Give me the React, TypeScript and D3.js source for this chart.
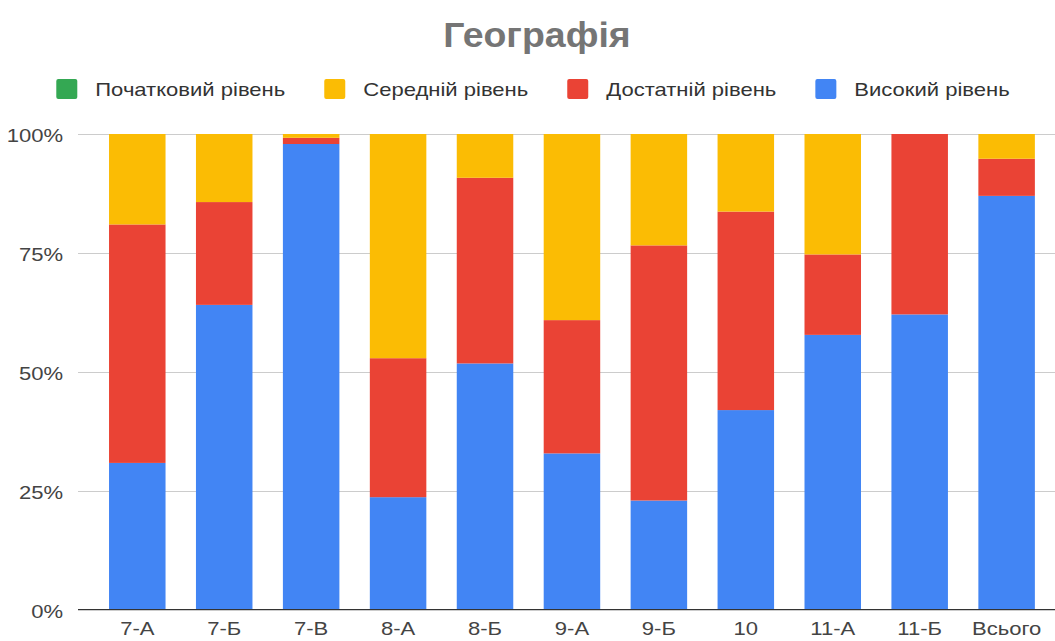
import React, { useEffect, useRef } from "react";
import * as d3 from "d3";

const categories = ["7-А", "7-Б", "7-В", "8-А", "8-Б", "9-А", "9-Б", "10", "11-А", "11-Б", "Всього"];
const seriesNames = ["Початковий рівень", "Середній рівень", "Достатній рівень", "Високий рівень"];
const initialLevel = [0, 0, 0, 0, 0, 0, 0, 0, 0, 0, 0];
const mediumLevel = [19.0, 14.3, 0.8, 47.1, 9.2, 39.1, 23.4, 16.3, 25.3, 0, 5.2];
const sufficientLevel = [50.1, 21.6, 1.3, 29.2, 39.0, 28.0, 53.6, 41.7, 16.9, 37.9, 7.8];
const highLevel = [30.9, 64.1, 97.9, 23.7, 51.8, 32.9, 23.0, 42.0, 57.8, 62.1, 87.0];
const yTicks = [0, 0.25, 0.5, 0.75, 1];
const yTickLabels = ["0%", "25%", "50%", "75%", "100%"];
const colors: Record<string, string> = {
  "Початковий рівень": "#34a853",
  "Середній рівень": "#fbbc04",
  "Достатній рівень": "#ea4335",
  "Високий рівень": "#4285f4",
};

const W = 1055;
const H = 641;
const FONT = "'Liberation Sans', Arial, sans-serif";
const SX = 1.16;

export default function App() {
  const ref = useRef<SVGSVGElement>(null);

  useEffect(() => {
    const svg = d3.select(ref.current);
    svg.selectAll("*").remove();

    const rows = categories.map((c, i) => ({
      cat: c,
      "Високий рівень": highLevel[i],
      "Достатній рівень": sufficientLevel[i],
      "Середній рівень": mediumLevel[i],
      "Початковий рівень": initialLevel[i],
    }));
    const stackOrder = ["Високий рівень", "Достатній рівень", "Середній рівень", "Початковий рівень"];
    const stacked = d3
      .stack<any>()
      .keys(stackOrder)
      .offset(d3.stackOffsetExpand)(rows);

    const x = d3
      .scaleBand<string>()
      .domain(categories)
      .range([78.6, 1065.3])
      .paddingInner(0.35)
      .paddingOuter(0.35);
    const y = d3.scaleLinear().domain([0, 1]).range([610, 134]);

    const label = (
      parent: any,
      px: number,
      py: number,
      txt: string,
      anchor: string,
      size: number,
      fill: string,
      sx: number,
      weight = "normal"
    ) => {
      const t = parent
        .append("text")
        .attr("transform", `translate(${px},${py}) scale(${sx},1)`)
        .attr("text-anchor", anchor)
        .attr("font-family", FONT)
        .attr("font-size", size)
        .attr("font-weight", weight)
        .attr("fill", fill)
        .text(txt);
      return t;
    };

    // gridlines
    const grid = svg.append("g");
    yTicks.forEach((t, i) => {
      const yy = Math.round(y(t)) + 0.5;
      grid
        .append("line")
        .attr("x1", 78)
        .attr("x2", W)
        .attr("y1", yy)
        .attr("y2", yy)
        .attr("stroke", "#cccccc")
        .attr("stroke-width", 1);
      label(svg, 63, yy + 7, yTickLabels[i], "end", 19, "#444", SX);
    });

    // bars
    const barsG = svg.append("g");
    stacked.forEach((layer) => {
      barsG
        .append("g")
        .attr("fill", colors[layer.key])
        .selectAll("rect")
        .data(layer)
        .join("rect")
        .attr("x", (d: any) => x(d.data.cat)!)
        .attr("width", x.bandwidth())
        .attr("y", (d: any) => y(d[1]))
        .attr("height", (d: any) => Math.max(0, y(d[0]) - y(d[1])));
    });

    // baseline over bars
    svg
      .append("line")
      .attr("x1", 78)
      .attr("x2", W)
      .attr("y1", Math.round(y(0)) - 0.5)
      .attr("y2", Math.round(y(0)) - 0.5)
      .attr("stroke", "#333")
      .attr("stroke-width", 1.2);

    // x labels
    const xl = svg.append("g");
    categories.forEach((c) => {
      label(xl, x(c)! + x.bandwidth() / 2, 635, c, "middle", 19, "#444", SX);
    });

    // title
    label(svg, 537, 47, "Географія", "middle", 35, "#757575", 1.07, "bold");

    // legend
    const legend = svg.append("g");
    const items = seriesNames.map((name) => {
      const g = legend.append("g");
      g.append("rect")
        .attr("width", 21)
        .attr("height", 20)
        .attr("y", 79)
        .attr("rx", 2)
        .attr("fill", colors[name]);
      const t = label(g, 39, 96, name, "start", 19, "#333", SX);
      const w = (t.node() as SVGTextElement).getComputedTextLength() * SX;
      return { g, w: 39 + w };
    });
    const gap = 39;
    const total = d3.sum(items, (d) => d.w) + gap * (items.length - 1);
    let cx = 533 - total / 2;
    items.forEach((it) => {
      it.g.attr("transform", `translate(${cx},0)`);
      cx += it.w + gap;
    });
  }, []);

  return (
    <svg
      ref={ref}
      width={W}
      height={H}
      style={{ position: "absolute", left: 0, top: 0, background: "#fff" }}
    />
  );
}
